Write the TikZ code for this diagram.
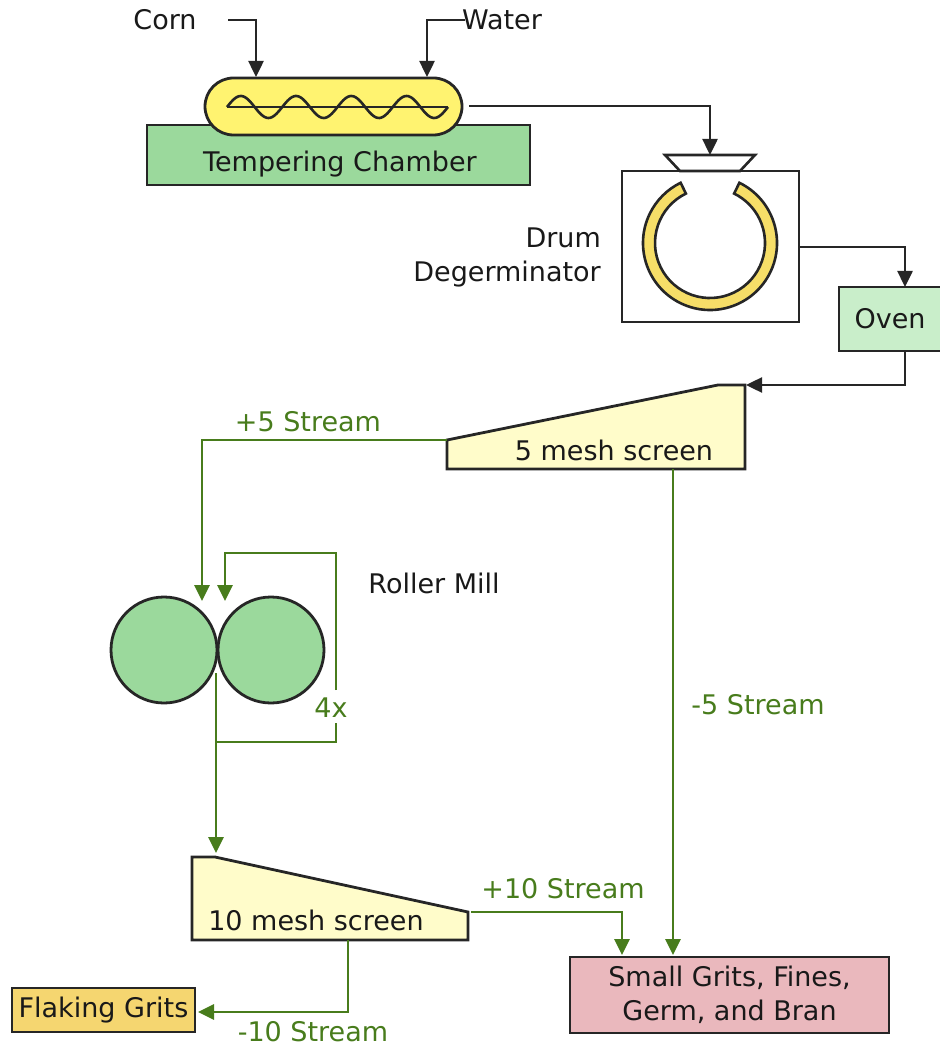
\documentclass[tikz,border=0pt]{standalone}
\usepackage{fontspec}
\setmainfont{DejaVu Sans}
\usetikzlibrary{arrows.meta}
\definecolor{pillyellow}{RGB}{255,243,112}
\definecolor{ringyellow}{RGB}{246,222,104}
\definecolor{tempgreen}{RGB}{155,217,156}
\definecolor{ovengreen}{RGB}{201,238,202}
\definecolor{screenyellow}{RGB}{255,252,202}
\definecolor{gritpink}{RGB}{234,184,189}
\definecolor{flakegold}{RGB}{245,214,112}
\definecolor{streamgreen}{RGB}{72,124,28}
\begin{document}
\begin{tikzpicture}[x=1pt, y=-1pt, every node/.style={font=\fontsize{27}{34}\selectfont, inner sep=0pt, text=black!90},
  unit/.style={draw=black!85, line width=2.8pt, minimum width=#1},
  flow/.style={draw=black!85, line width=2.5pt, -{Triangle[length=16pt,width=15pt]}},
  gflow/.style={draw=streamgreen, line width=2.8pt, -{Triangle[length=16pt,width=15pt]}},
  gline/.style={draw=streamgreen, line width=2.8pt},
  glabel/.style={text=streamgreen}]
\useasboundingbox (0,0) rectangle (939,1048);
% tempering chamber
\node[unit=383pt, fill=tempgreen, minimum height=60pt] (temper) at (338.5,155) {};
\node (tempertxt) at (340,164) {Tempering Chamber};
\node[unit=257pt, fill=pillyellow, minimum height=57pt, rounded corners=28.5pt] (pill) at (333.5,106.5) {};
\draw[line width=2.6pt, black!85] (227,107) -- (448,107);
\draw[line width=2.6pt, black!85, domain=0:221, samples=140, smooth] plot ({227+\x},{107-11*sin(\x/55.25*360)});
\node (corn) at (165,20) {Corn};
\node (water) at (502,20) {Water};
\coordinate (cornsrc) at (228,20); \coordinate (cornin) at (256,77);
\coordinate (watersrc) at (465,20); \coordinate (waterin) at (427,77);
\draw[flow] (cornsrc) -| (cornin);
\draw[flow] (watersrc) -| (waterin);
% drum degerminator
\node[unit=177pt, fill=white, minimum height=151pt] (drum) at (710.5,246.5) {};
\draw[line width=2.6pt, black!85, fill=white] (665,155) -- (755,155) -- (740,171) -- (680,171) -- cycle;
\draw[line width=2.6pt, black!85, fill=ringyellow, shift={(710,243)}] (-64:67) arc[start angle=-64, end angle=244, radius=67] -- (244:55) arc[start angle=244, end angle=-64, radius=55] -- cycle;
\node[align=right, anchor=east] (drumtxt) at (601,257) {Drum\\Degerminator};
\node[unit=102pt, fill=ovengreen, minimum height=64pt] (oven) at (890,319) {Oven};
\coordinate (pillout) at (469,106); \coordinate (hopin) at (710,155);
\coordinate (drumout) at (799,247); \coordinate (ovenin) at (905,287);
\coordinate (ovenout) at (905,351); \coordinate (scr5in) at (746,385);
\draw[flow] (pillout) -| (hopin);
\draw[flow] (drumout) -| (ovenin);
\draw[flow] (ovenout) |- (scr5in);
% 5 mesh screen
\draw[line width=2.8pt, black!85, fill=screenyellow] (447,440) -- (718,385) -- (745,385) -- (745,469) -- (447,469) -- cycle;
\node (scr5) at (614,450) {5 mesh screen};
\coordinate (scr5left) at (447,440); \coordinate (millin) at (202,601);
\coordinate (scr5bot) at (673,469); \coordinate (grits5in) at (673,955);
\draw[gflow] (scr5left) -| (millin);
\node[glabel] (plus5) at (308,422) {+5 Stream};
\draw[gflow] (scr5bot) -- (grits5in);
\node[glabel] (minus5) at (758,705) {-5 Stream};
% roller mill
\node[unit=106pt, circle, fill=tempgreen] (rollA) at (164,650) {};
\node[unit=106pt, circle, fill=tempgreen] (rollB) at (271,650) {};
\node (milltxt) at (434,583) {Roller Mill};
\coordinate (nip) at (216,673); \coordinate (loopcorner) at (336,742);
\coordinate (loopgapb) at (336,723); \coordinate (loopgapt) at (336,690);
\coordinate (recycin) at (225,601); \coordinate (scr10in) at (216,853);
\draw[gline] (nip) |- (loopcorner) -- (loopgapb);
\draw[gflow] (loopgapt) |- (225,553) -- (recycin);
\node[glabel] (times) at (331,708) {4x};
\draw[gflow] (nip) -- (scr10in);
% 10 mesh screen
\draw[line width=2.8pt, black!85, fill=screenyellow] (192,857) -- (215,857) -- (468,912) -- (468,940) -- (192,940) -- cycle;
\node (scr10) at (316,920) {10 mesh screen};
\node[unit=319pt, fill=gritpink, minimum height=76pt, align=center] (grits) at (729.5,995) {Small Grits, Fines,\\Germ, and Bran};
\node[unit=183pt, fill=flakegold, minimum height=44pt] (flaking) at (103.5,1010) {Flaking Grits};
\coordinate (scr10right) at (471,912); \coordinate (grits10in) at (622,955);
\coordinate (scr10bot) at (348,940); \coordinate (flakein) at (198,1012);
\draw[gflow] (scr10right) -| (grits10in);
\node[glabel] (plus10) at (563,889) {+10 Stream};
\draw[gflow] (scr10bot) |- (flakein);
\node[glabel] (minus10) at (313,1032) {-10 Stream};
\end{tikzpicture}
\end{document}
